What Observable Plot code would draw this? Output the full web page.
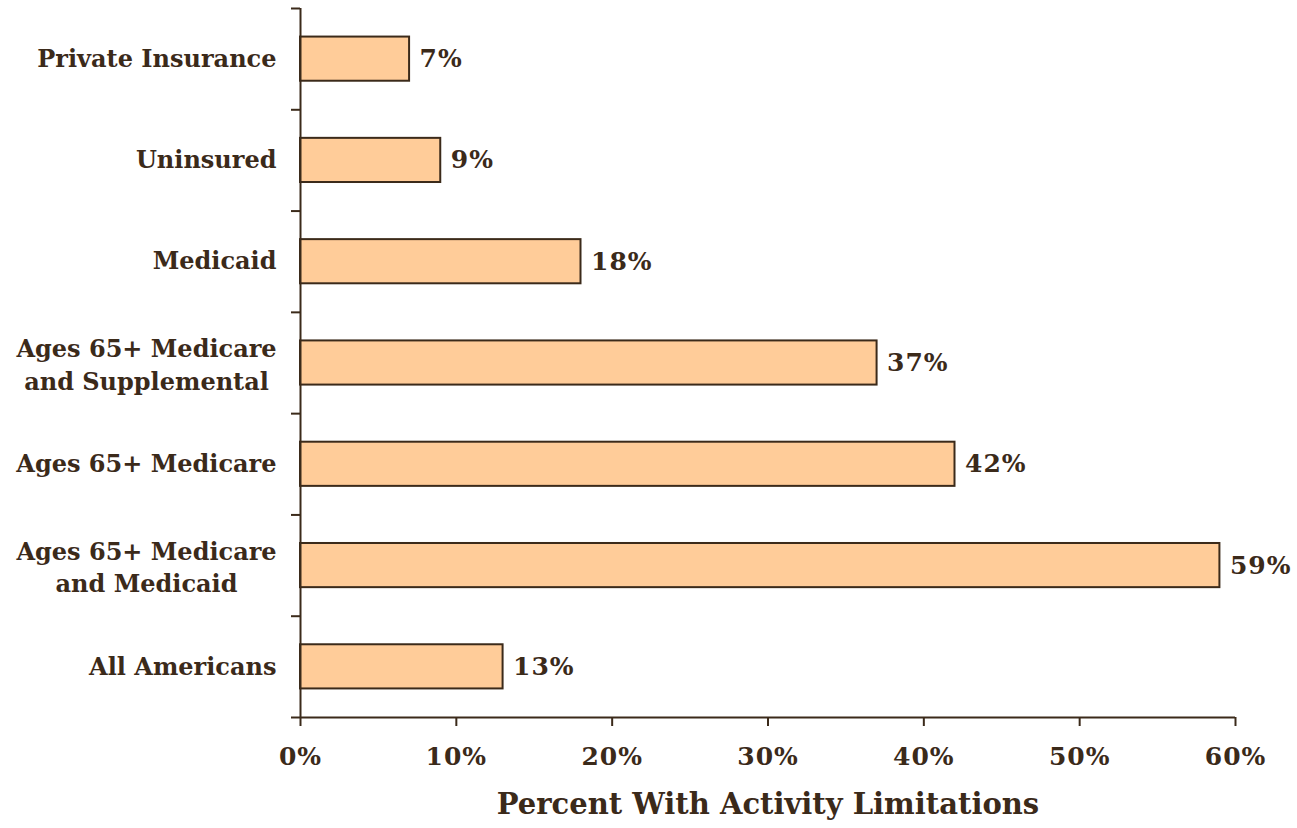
<!DOCTYPE html>
<html>
<head>
<meta charset="utf-8">
<script src="https://cdn.jsdelivr.net/npm/d3@7"></script>
<script src="https://cdn.jsdelivr.net/npm/@observablehq/plot@0.6"></script>
<style>
  html, body { margin: 0; padding: 0; background: #ffffff; }
  #chart { width: 1297px; height: 828px; }
  .num text, text.num { letter-spacing: 1px; }
</style>
</head>
<body>
<div id="chart"></div>
<script>
// Categories from top to bottom
const categories = [
  "Private Insurance",
  "Uninsured",
  "Medicaid",
  "Ages 65+ Medicare\nand Supplemental",
  "Ages 65+ Medicare",
  "Ages 65+ Medicare\nand Medicaid",
  "All Americans"
];
const values = [7, 9, 18, 37, 42, 59, 13];
const xTicks = [0, 10, 20, 30, 40, 50, 60];
const xTitle = "Percent With Activity Limitations";

const ink = "#3b2a1a";
const data = categories.map((c, i) => ({cat: c, value: values[i], pos: i + 0.5, multi: c.includes("\n")}));
const half = 0.218;

const chart = Plot.plot({
  width: 1297,
  height: 828,
  marginLeft: 300,
  marginRight: 62,
  marginTop: 8,
  marginBottom: 111,
  style: {fontFamily: "'DejaVu Serif', serif", fontWeight: "bold", color: ink, background: "#ffffff"},
  x: {domain: [0, 60]},
  y: {domain: [categories.length, 0]},
  marks: [
    Plot.rectX(data, {x1: 0, x2: "value", y1: d => d.pos - half, y2: d => d.pos + half, fill: "#FFCC99", stroke: ink, strokeWidth: 2}),
    Plot.ruleX([0], {stroke: ink, strokeWidth: 2}),
    Plot.ruleY([categories.length], {stroke: ink, strokeWidth: 2}),
    Plot.axisY({ticks: d3.range(categories.length + 1), tickFormat: () => "", tickSize: 9, stroke: ink, strokeWidth: 2, label: null}),
    Plot.axisX({ticks: xTicks, tickFormat: d => d + "%", tickSize: 9, tickPadding: 21, fontSize: 25, fill: ink, stroke: ink, strokeWidth: 2, label: null, className: "num"}),
    Plot.text(data.filter(d => !d.multi), {x: 0, y: "pos", text: "cat", textAnchor: "end", dx: -24, fontSize: 24, fill: ink}),
    Plot.text(data.filter(d => d.multi), {x: 0, y: "pos", text: "cat", textAnchor: "middle", dx: -154, fontSize: 24, lineHeight: 1.35, fill: ink}),
    Plot.text(data, {x: "value", y: "pos", text: d => d.value + "%", textAnchor: "start", dx: 10, fontSize: 25, fill: ink, className: "num"}),
    Plot.text([xTitle], {frameAnchor: "bottom", dy: 96, fontSize: 29, fill: ink})
  ]
});
document.getElementById("chart").appendChild(chart);
</script>
</body>
</html>
